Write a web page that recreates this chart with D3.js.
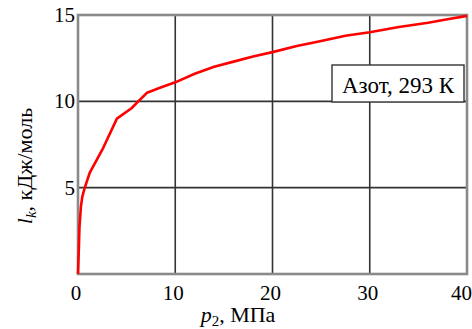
<!DOCTYPE html>
<html>
<head>
<meta charset="utf-8">
<script src="https://cdn.jsdelivr.net/npm/d3@7"></script>
<style>
  body { margin: 0; background: #fff; }
  svg text { font-family: "Liberation Serif", "Times New Roman", serif; fill: #000; }
</style>
</head>
<body>
<svg id="chart"></svg>
<script>
const WIDTH = 472;
const HEIGHT = 329;

// pressure p2, MPa and l_k, kJ/mol (nitrogen, 293 K)
const pressure = [0, 0.1, 0.15, 0.3, 0.45, 0.7, 1.2, 2.5, 4, 5.5, 6.2, 7.1, 8.5, 10, 12, 14, 16, 18, 20, 22.5, 25, 27.5, 30, 33, 36, 38, 40];
const lk = [0, 1.7, 2.7, 3.9, 4.5, 5.0, 5.85, 7.2, 9.0, 9.6, 10.0, 10.5, 10.8, 11.1, 11.6, 12.0, 12.3, 12.6, 12.85, 13.2, 13.5, 13.8, 14.0, 14.3, 14.55, 14.75, 14.95];

const xTicks = [0, 10, 20, 30, 40];
const yTicks = [0, 5, 10, 15];
const legendText = "Азот, 293 К";

const PL = 78, PR = 467, PT = 15, PB = 274;

const x = d3.scaleLinear([0, 40], [PL, PR]);
const y = d3.scaleLinear([0, 15], [PB, PT]);

const svg = d3.select('#chart')
    .attr('width', WIDTH)
    .attr('height', HEIGHT);

// grid lines
svg.append('g')
    .selectAll('line')
    .data(xTicks.slice(1, -1))
    .enter()
    .append('line')
    .attr('x1', d => x(d)).attr('x2', d => x(d))
    .attr('y1', PT).attr('y2', PB)
    .attr('stroke', '#333')
    .attr('stroke-width', 1.6);

svg.append('g')
    .selectAll('line')
    .data(yTicks.slice(1, -1))
    .enter()
    .append('line')
    .attr('x1', PL).attr('x2', PR)
    .attr('y1', d => y(d)).attr('y2', d => y(d))
    .attr('stroke', '#333')
    .attr('stroke-width', 1.6);

// frame
svg.append('rect')
    .attr('x', PL).attr('y', PT)
    .attr('width', PR - PL).attr('height', PB - PT)
    .attr('fill', 'none')
    .attr('stroke', '#8a8a8a')
    .attr('stroke-width', 2.6);

// curve
const line = d3.line()
    .x((d, i) => x(pressure[i]))
    .y(d => y(d));

svg.append('path')
    .datum(lk)
    .attr('d', line)
    .attr('fill', 'none')
    .attr('stroke', '#ff0000')
    .attr('stroke-width', 2.6)
    .attr('stroke-linejoin', 'round');

// tick labels
svg.append('g')
    .selectAll('text')
    .data(xTicks)
    .enter()
    .append('text')
    .attr('x', (d, i) => i === xTicks.length - 1 ? WIDTH : x(d) - 2)
    .attr('y', 300)
    .attr('text-anchor', (d, i) => i === xTicks.length - 1 ? 'end' : 'middle')
    .attr('font-size', 21)
    .text(d => d);

svg.append('g')
    .selectAll('text')
    .data(yTicks.slice(1))
    .enter()
    .append('text')
    .attr('x', 75)
    .attr('y', d => y(d) + 7)
    .attr('text-anchor', 'end')
    .attr('font-size', 21)
    .text(d => d);

// axis titles
const xt = svg.append('text')
    .attr('x', 238)
    .attr('y', 322)
    .attr('text-anchor', 'middle')
    .attr('font-size', 22);
xt.append('tspan').attr('font-style', 'italic').text('p');
xt.append('tspan').attr('font-size', 15).attr('dy', 4).text('2');
xt.append('tspan').attr('dy', -4).text(', МПа');

const yt = svg.append('text')
    .attr('transform', 'translate(32,166) rotate(-90)')
    .attr('text-anchor', 'middle')
    .attr('font-size', 22);
yt.append('tspan').attr('font-style', 'italic').text('l');
yt.append('tspan').attr('font-style', 'italic').attr('font-size', 15).attr('dy', 4).text('k');
yt.append('tspan').attr('dy', -4).text(', кДж/моль');

// legend box
const lg = svg.append('g');
lg.append('rect')
    .attr('x', 332).attr('y', 65)
    .attr('width', 132).attr('height', 37)
    .attr('fill', '#fff')
    .attr('stroke', '#333')
    .attr('stroke-width', 1.4);
lg.append('text')
    .attr('x', 398).attr('y', 93)
    .attr('text-anchor', 'middle')
    .attr('font-size', 23)
    .text(legendText);
</script>
</body>
</html>
